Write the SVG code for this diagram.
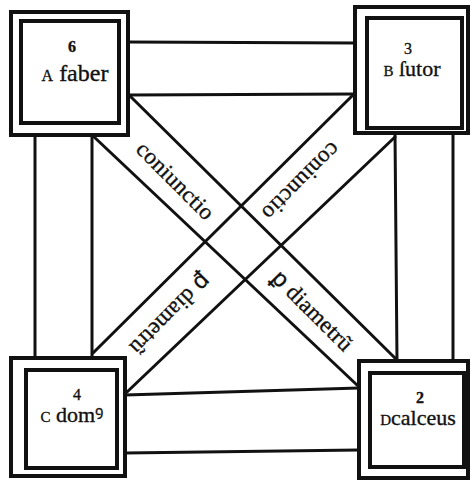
<svg xmlns="http://www.w3.org/2000/svg" width="470" height="481" viewBox="0 0 470 481">
<style>
.bg{fill:#ffffff}
.band{stroke:#111;stroke-width:3;fill:none;stroke-linecap:round}
.outer{fill:#fff;stroke:#111;stroke-width:4}
.inner{fill:#fff;stroke:#111;stroke-width:4}
.t{font-family:"Liberation Serif","DejaVu Serif","Noto Sans",serif;fill:#111;stroke:#111;stroke-width:0.35}
.num{font-size:16px;text-anchor:middle}
.bold{font-weight:bold}
.lab{font-size:22px;text-anchor:middle}
.sc{font-size:15px}
.diag{font-size:23px;text-anchor:middle}
</style>
<rect class="bg" x="0" y="0" width="470" height="481"/>
<g id="connectors">
  <line class="band" x1="128" y1="42" x2="355" y2="43"/>
  <line class="band" x1="128" y1="95" x2="355" y2="94"/>
  <line class="band" x1="125" y1="395" x2="359" y2="388"/>
  <line class="band" x1="125" y1="453" x2="359" y2="450"/>
  <line class="band" x1="35" y1="135" x2="35" y2="358"/>
  <line class="band" x1="92" y1="135" x2="92" y2="358"/>
  <line class="band" x1="395" y1="133" x2="397" y2="361"/>
  <line class="band" x1="453" y1="133" x2="453" y2="361"/>
  <line class="band" x1="130" y1="96" x2="397" y2="360"/>
  <line class="band" x1="92" y1="135" x2="357" y2="385"/>
  <line class="band" x1="355" y1="93" x2="93" y2="353"/>
  <line class="band" x1="395" y1="137" x2="127" y2="392"/>
  <g id="label-coniunctio-1" transform="translate(175,181) rotate(45)"><text class="t diag" x="0" y="7" textLength="100" lengthAdjust="spacing">coniunctio</text></g>
  <g id="label-coniunctio-2" transform="translate(301,181) rotate(135)"><text class="t diag" x="0" y="7" textLength="100" lengthAdjust="spacing">coniunctio</text></g>
  <g id="label-diametru-1" transform="translate(312,311) rotate(45)"><text class="t diag" x="0" y="7" textLength="104" lengthAdjust="spacing">ꝑ diametrũ</text></g>
  <g id="label-diametru-2" transform="translate(170,314) rotate(135)"><text class="t diag" x="0" y="7" textLength="104" lengthAdjust="spacing">ꝑ diametrũ</text></g>
</g>
<g id="node-A">
  <rect class="outer" x="11" y="12" width="117" height="123"/>
  <rect class="inner" x="21" y="21" width="98" height="102"/>
  <text class="t num bold" x="72" y="52">6</text>
  <text class="t lab" x="75" y="81" style="font-size:24px"><tspan class="sc" style="font-size:16px">A</tspan> faber</text>
</g>
<g id="node-B">
  <rect class="outer" x="355" y="7" width="113" height="126"/>
  <rect class="inner" x="367" y="18" width="95" height="110"/>
  <text class="t num" x="408" y="54">3</text>
  <text class="t lab" x="412" y="76"><tspan class="sc">B</tspan> ſutor</text>
</g>
<g id="node-C">
  <rect class="outer" x="11" y="358" width="114" height="118"/>
  <rect class="inner" x="26" y="370" width="91" height="98"/>
  <text class="t num" x="77" y="400">4</text>
  <text class="t lab" x="72" y="422"><tspan class="sc">C</tspan> domꝰ</text>
</g>
<g id="node-D">
  <rect class="outer" x="359" y="361" width="109" height="117"/>
  <rect class="inner" x="370" y="373" width="94" height="94"/>
  <text class="t num bold" x="420" y="403">2</text>
  <text class="t lab" x="418" y="425"><tspan class="sc">D</tspan>calceus</text>
</g>
</svg>
